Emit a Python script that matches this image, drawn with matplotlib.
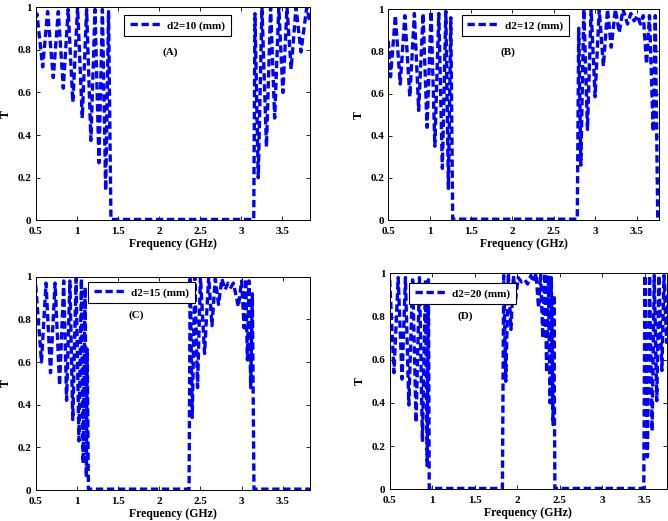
import matplotlib
matplotlib.use("Agg")
import matplotlib.pyplot as plt

plt.rcParams["font.family"] = ["Liberation Serif", "DejaVu Serif"]
plt.rcParams["font.weight"] = "bold"

# (A) d2 = 10 mm
f_a = [0.5, 0.515, 0.585, 0.645, 0.714, 0.775, 0.836, 0.895, 0.952, 1.01,
       1.067, 1.12, 1.172, 1.222, 1.27, 1.312, 1.352, 1.387, 1.416,
       3.155, 3.17, 3.21, 3.255, 3.31, 3.36, 3.41, 3.46, 3.51, 3.56, 3.61,
       3.67, 3.73, 3.8, 3.84]
t_a = [0.95, 0.97, 0.72, 0.98, 0.67, 0.98, 0.62, 0.99, 0.555, 1.0,
       0.48, 0.99, 0.375, 0.99, 0.27, 0.99, 0.14, 0.98, 0.004,
       0.004, 0.97, 0.2, 1.0, 0.345, 1.0, 0.48, 1.0, 0.6, 1.0, 0.71,
       1.0, 0.79, 1.0, 0.93]

# (B) d2 = 12 mm
f_b = [0.5, 0.527, 0.585, 0.644, 0.70, 0.76, 0.815, 0.867, 0.92, 0.968,
       1.017, 1.062, 1.11, 1.153, 1.195, 1.226, 1.255, 1.278,
       2.783, 2.80, 2.826, 2.862, 2.906, 2.95, 2.998, 3.048, 3.098, 3.148,
       3.193, 3.243, 3.29, 3.335, 3.39, 3.43, 3.47, 3.51, 3.545, 3.58,
       3.62, 3.655, 3.70, 3.725, 3.755, 3.8]
t_b = [0.85, 0.68, 0.97, 0.645, 0.97, 0.585, 0.98, 0.52, 0.98, 0.44,
       0.99, 0.35, 0.98, 0.245, 0.99, 0.15, 0.96, 0.004,
       0.004, 0.91, 0.26, 1.0, 0.43, 1.0, 0.585, 1.0, 0.73, 1.0,
       0.82, 1.0, 0.89, 1.0, 0.93, 0.98, 0.945, 0.97, 0.93, 0.97,
       0.74, 0.97, 0.42, 0.97, 0.004, 0.004]

# (C) d2 = 15 mm
f_c = [0.5, 0.57, 0.625, 0.68, 0.735, 0.79, 0.84, 0.875, 0.915, 0.95,
       0.99, 1.025, 1.055, 1.076, 1.10, 1.115, 1.125, 1.14,
       2.362, 2.375, 2.40, 2.432, 2.465, 2.50, 2.55, 2.60, 2.64, 2.68,
       2.72, 2.76, 2.80, 2.835, 2.87, 2.90, 2.96, 3.0, 3.03, 3.05, 3.07,
       3.09, 3.11, 3.13, 3.15, 3.85]
t_c = [0.96, 0.60, 0.97, 0.55, 0.97, 0.49, 0.98, 0.42, 0.98, 0.33,
       0.99, 0.23, 0.99, 0.125, 0.95, 0.06, 0.66, 0.004,
       0.004, 1.0, 0.34, 1.0, 0.48, 1.0, 0.64, 1.0, 0.77, 0.99,
       0.87, 0.99, 0.94, 0.97, 0.95, 0.97, 0.86, 0.98, 0.76, 0.99, 0.61,
       0.98, 0.48, 0.92, 0.004, 0.004]

# (D) d2 = 20 mm
f_d = [0.5, 0.55, 0.60, 0.645, 0.685, 0.725, 0.77, 0.81, 0.85, 0.885,
       0.92, 0.94, 0.955, 0.965,
       1.825, 1.84, 1.865, 1.895, 1.925, 1.955, 1.98, 2.01, 2.05, 2.09,
       2.12, 2.16, 2.19, 2.22, 2.25, 2.275, 2.30, 2.325, 2.345, 2.365,
       2.385, 2.40, 2.42, 2.43, 2.442,
       3.487, 3.50, 3.53, 3.555, 3.585, 3.61, 3.64, 3.665, 3.70, 3.725,
       3.755, 3.78]
t_d = [0.97, 0.54, 0.98, 0.51, 0.98, 0.39, 0.98, 0.31, 0.98, 0.22,
       0.97, 0.11, 0.97, 0.004,
       0.004, 0.99, 0.5, 1.0, 0.74, 0.99, 0.88, 0.98, 0.96, 0.97,
       0.95, 0.99, 0.96, 1.0, 0.84, 1.0, 0.7, 1.0, 0.54, 0.99,
       0.4, 0.98, 0.3, 0.9, 0.004,
       0.004, 0.99, 0.15, 0.99, 0.27, 0.99, 0.41, 0.99, 0.55, 0.99,
       0.68, 0.99]

labels = ["d2=10 (mm)", "d2=12 (mm)", "d2=15 (mm)", "d2=20 (mm)"]
tags = ["(A)", "(B)", "(C)", "(D)"]
x_ticks = [0.5, 1, 1.5, 2, 2.5, 3, 3.5]
x_tick_labels = ["0.5", "1", "1.5", "2", "2.5", "3", "3.5"]
y_ticks = [0, 0.2, 0.4, 0.6, 0.8, 1]
y_tick_labels = ["0", "0.2", "0.4", "0.6", "0.8", "1"]

W, H = 668, 521
# axes boxes in pixels: left, right, top, bottom
boxes = [(35.7, 310, 7.3, 220.3), (388.3, 659, 9.3, 220),
         (35.7, 310, 276.7, 490), (389.7, 667, 273.3, 489.3)]
x_max = [3.84, 3.77, 3.83, 3.76]
legend_pos = [(0.322, 0.964), (0.272, 0.973), (0.191, 0.975), (0.07, 0.955)]
tag_pos = [(0.489, 0.788), (0.442, 0.797), (0.366, 0.82), (0.271, 0.803)]

fig = plt.figure(figsize=(W / 100, H / 100), dpi=100)
series = [(f_a, t_a), (f_b, t_b), (f_c, t_c), (f_d, t_d)]

for i, (freq, trans) in enumerate(series):
    l, r, t, b = boxes[i]
    ax = fig.add_axes([l / W, 1 - b / H, (r - l) / W, (b - t) / H])
    ax.plot(freq, trans, color="#0000ff", linewidth=2.4,
            linestyle=(0, (2.2, 1.1)), label=labels[i])
    ax.set_xlim(0.5, x_max[i])
    ax.set_ylim(0, 1)
    ax.set_xticks(x_ticks)
    ax.set_xticklabels(x_tick_labels)
    ax.set_yticks(y_ticks)
    ax.set_yticklabels(y_tick_labels)
    ax.tick_params(direction="in", length=3, width=0.6, labelsize=8,
                   top=True, right=True)
    ax.tick_params(axis="x", pad=5)
    ax.tick_params(axis="y", pad=3)
    for sp in ax.spines.values():
        sp.set_linewidth(0.7)
    ax.set_xlabel("Frequency (GHz)", fontsize=8.5, fontweight="bold", labelpad=1.5)
    ax.set_ylabel("T", fontsize=8.5, fontweight="bold", labelpad=4)
    leg = ax.legend(loc="upper left", bbox_to_anchor=legend_pos[i],
                    borderaxespad=0, fancybox=False, framealpha=1,
                    edgecolor="black", handlelength=2.9, fontsize=8,
                    borderpad=0.5, handletextpad=0.5)
    leg.get_frame().set_linewidth(0.8)
    ax.text(tag_pos[i][0], tag_pos[i][1], tags[i], transform=ax.transAxes,
            ha="center", va="center", fontsize=8, fontweight="bold")

fig.savefig("out.png", dpi=100)
